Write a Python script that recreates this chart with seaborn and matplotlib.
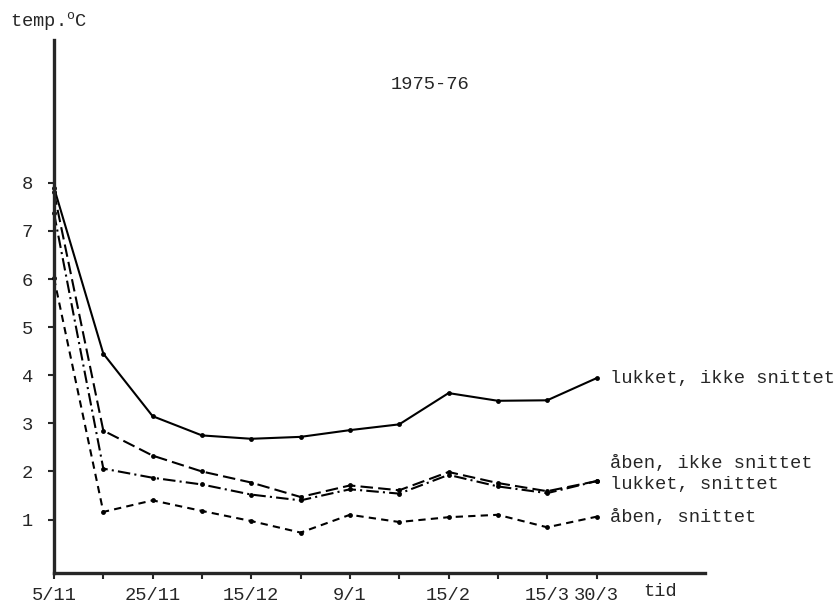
import numpy as np
import pandas as pd
import matplotlib
matplotlib.use("Agg")
import matplotlib.pyplot as plt
import seaborn as sns

# sampling dates (evenly spaced on the axis), only some are labelled
tick_labels = ["5/11", "", "25/11", "", "15/12", "", "9/1", "", "15/2", "", "15/3", "30/3"]

lukket_ikke = [7.9, 4.45, 3.15, 2.75, 2.68, 2.72, 2.86, 2.98, 3.63, 3.47, 3.48, 3.94]
aaben_ikke = [7.8, 2.85, 2.33, 2.0, 1.77, 1.47, 1.71, 1.61, 1.99, 1.76, 1.59, 1.8]
lukket_snit = [7.37, 2.06, 1.87, 1.73, 1.52, 1.4, 1.63, 1.54, 1.93, 1.69, 1.55, 1.8]
aaben_snit = [6.02, 1.16, 1.4, 1.18, 0.97, 0.73, 1.1, 0.95, 1.05, 1.1, 0.84, 1.06]

names = ["lukket, ikke snittet", "åben, ikke snittet", "lukket, snittet", "åben, snittet"]
series = [lukket_ikke, aaben_ikke, lukket_snit, aaben_snit]

df = pd.concat([pd.DataFrame({"t": np.arange(len(v)), "temp": v, "serie": n})
                for n, v in zip(names, series)], ignore_index=True)

sns.set_style("ticks")
plt.rcParams["font.family"] = ["Liberation Mono", "DejaVu Sans Mono"]
plt.rcParams["mathtext.fontset"] = "custom"
plt.rcParams["mathtext.rm"] = "Liberation Mono"

fig = plt.figure(figsize=(8.38, 6.06), dpi=100)
ax = fig.add_axes([54 / 838, 33 / 606, 651 / 838, 533 / 606])

dashes = {names[0]: "", names[1]: (6, 2.5), names[2]: (6, 2, 1, 2), names[3]: (3.5, 2.5)}
markers = {n: "o" for n in names}
sns.lineplot(data=df, x="t", y="temp", style="serie", dashes=dashes, markers=markers,
             color="black", linewidth=1.5, markersize=3.5, markeredgewidth=0,
             legend=False, ax=ax, clip_on=False)

fs = 13.5
ax.set_xlim(0, 13.2)
ax.set_ylim(-0.11, 10.97)
ax.set_xticks(range(len(tick_labels)))
ax.set_xticklabels(tick_labels)
ax.set_yticks(range(1, 9))
ax.set_xlabel("")
ax.set_ylabel("")
ax.tick_params(axis="x", length=4, width=1.5, pad=6, labelsize=fs)
ax.tick_params(axis="y", length=4, width=1.5, pad=11, labelsize=fs)
sns.despine(ax=ax)
for s in ["left", "bottom"]:
    ax.spines[s].set_linewidth(2.4)

# end labels to the right of the last point
label_y = [3.94, 2.17, 1.74, 1.05]
for n, yv in zip(names, label_y):
    ax.text(11.28, yv, n, ha="left", va="center", fontsize=fs, clip_on=False)

ax.text(0.578, 0.917, "1975-76", transform=ax.transAxes, ha="center", va="center", fontsize=fs)
ax.text(12.3, -0.11, "tid", ha="center", va="top", fontsize=fs,
        transform=ax.transData + matplotlib.transforms.ScaledTranslation(0, -10 / 100, fig.dpi_scale_trans))
fig.text(10 / 838, 1 - 22 / 606, r"temp.$^{\rm o}$C", ha="left", va="center", fontsize=13.5)

fig.savefig("out.png", dpi=100)
